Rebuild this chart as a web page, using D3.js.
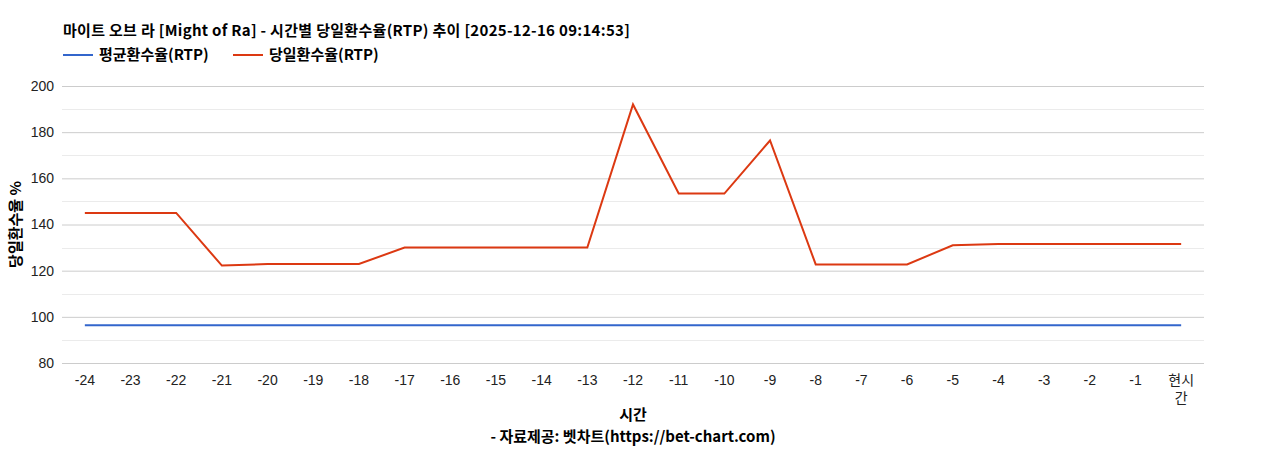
<!DOCTYPE html>
<html>
<head>
<meta charset="utf-8">
<script src="https://cdn.jsdelivr.net/npm/d3@7"></script>
<style>
  body { margin: 0; background: #fff; }
  text { font-family: "Liberation Sans", Arial, "Noto Sans CJK KR", sans-serif; }
  text.bold { font-family: "Noto Sans CJK KR", "Liberation Sans", sans-serif; font-weight: bold; font-size: 15px; }
</style>
</head>
<body>
<div id="chart"></div>
<script>
// hours before now, last one is "now"
const hours = ['-24', '-23', '-22', '-21', '-20', '-19', '-18', '-17', '-16', '-15', '-14', '-13',
  '-12', '-11', '-10', '-9', '-8', '-7', '-6', '-5', '-4', '-3', '-2', '-1', '현시간'];
const avgRtp = [96.3, 96.3, 96.3, 96.3, 96.3, 96.3, 96.3, 96.3, 96.3, 96.3, 96.3, 96.3,
  96.3, 96.3, 96.3, 96.3, 96.3, 96.3, 96.3, 96.3, 96.3, 96.3, 96.3, 96.3, 96.3];
const dayRtp = [145, 145, 145, 122.2, 122.9, 122.9, 122.9, 130, 130, 130, 130, 130,
  192, 153.4, 153.4, 176.4, 122.7, 122.7, 122.7, 131, 131.6, 131.6, 131.6, 131.6, 131.6];
const yTicks = [80, 100, 120, 140, 160, 180, 200];
const yMinor = [90, 110, 130, 150, 170, 190];

const series = [
  {name: '평균환수율(RTP)', values: avgRtp, color: '#3366cc'},
  {name: '당일환수율(RTP)', values: dayRtp, color: '#dc3912'}
];

const width = 1268;
const height = 450;
const margin = {top: 86, right: 64, bottom: 87, left: 62};

const svg = d3.select('#chart').append('svg')
  .attr('width', width)
  .attr('height', height);

const x = d3.scaleBand()
  .domain(hours)
  .range([margin.left, width - margin.right]);

const y = d3.scaleLinear()
  .domain([80, 200])
  .range([height - margin.bottom, margin.top]);

// minor grid
svg.append('g')
  .selectAll('line')
  .data(yMinor)
  .enter().append('line')
    .attr('x1', margin.left)
    .attr('x2', width - margin.right)
    .attr('y1', d => Math.round(y(d)) + 0.5)
    .attr('y2', d => Math.round(y(d)) + 0.5)
    .attr('stroke', '#ebebeb');

// y axis with major grid
const yAxis = svg.append('g')
  .attr('transform', 'translate(' + margin.left + ',0)')
  .call(d3.axisLeft(y).tickValues(yTicks).tickSize(-(width - margin.left - margin.right)).tickPadding(8));
yAxis.select('.domain').remove();
yAxis.selectAll('.tick line').attr('stroke', '#cccccc');
yAxis.selectAll('.tick text')
  .attr('fill', '#222')
  .style('font-size', '14px');

// x axis labels
const xAxis = svg.append('g')
  .attr('transform', 'translate(0,' + (height - margin.bottom) + ')')
  .call(d3.axisBottom(x).tickSize(0).tickPadding(12));
xAxis.select('.domain').remove();
xAxis.selectAll('.tick text')
  .attr('fill', '#222')
  .style('font-size', '14px')
  .each(function (d) {
    if (d === '현시간') {
      const t = d3.select(this).text(null);
      t.append('tspan').attr('x', 0).text('현시');
      t.append('tspan').attr('x', 0).attr('dy', '1.3em').text('간');
    }
  });

// lines
const line = d3.line()
  .x((d, i) => x(hours[i]) + x.bandwidth() / 2)
  .y(d => y(d));

svg.append('g')
  .selectAll('path')
  .data(series)
  .enter().append('path')
    .attr('d', d => line(d.values))
    .attr('fill', 'none')
    .attr('stroke', d => d.color)
    .attr('stroke-width', 2);

// title
svg.append('text')
  .attr('class', 'bold')
  .attr('x', 63)
  .attr('y', 36)
  .attr('fill', '#000')
  .style('letter-spacing', '0.3px')
  .text('마이트 오브 라 [Might of Ra] - 시간별 당일환수율(RTP) 추이 [2025-12-16 09:14:53]');

// legend
const legendX = [63, 233];
const legend = svg.append('g')
  .selectAll('g')
  .data(series)
  .enter().append('g')
    .attr('transform', (d, i) => 'translate(' + legendX[i] + ',55)');
legend.append('line')
  .attr('x1', 0)
  .attr('x2', 30)
  .attr('stroke', d => d.color)
  .attr('stroke-width', 2);
legend.append('text')
  .attr('class', 'bold')
  .attr('x', 36)
  .attr('y', 5)
  .attr('fill', '#000')
  .text(d => d.name);

// axis titles
svg.append('text')
  .attr('class', 'bold')
  .attr('transform', 'translate(21,' + ((margin.top + height - margin.bottom) / 2) + ') rotate(-90)')
  .attr('text-anchor', 'middle')
  .text('당일환수율 %');

svg.append('text')
  .attr('class', 'bold')
  .attr('x', (margin.left + width - margin.right) / 2)
  .attr('y', 420)
  .attr('text-anchor', 'middle')
  .text('시간');

svg.append('text')
  .attr('class', 'bold')
  .attr('x', (margin.left + width - margin.right) / 2)
  .attr('y', 442)
  .attr('text-anchor', 'middle')
  .text('- 자료제공: 벳차트(https://bet-chart.com)');
</script>
</body>
</html>
